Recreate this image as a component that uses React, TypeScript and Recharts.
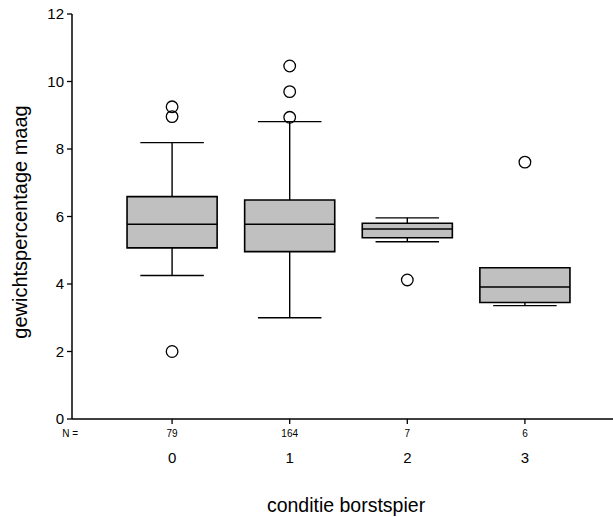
import { ScatterChart, Scatter, XAxis, YAxis, ReferenceArea } from 'recharts'

const categories = ['0', '1', '2', '3']
const counts = [79, 164, 7, 6]
const q1 = [5.07, 4.96, 5.37, 3.45]
const median = [5.77, 5.77, 5.63, 3.91]
const q3 = [6.59, 6.49, 5.8, 4.48]
const whiskerLow = [4.25, 3.0, 5.25, 3.36]
const whiskerHigh = [8.19, 8.81, 5.96, 4.48]
const outliers = [
  [9.25, 8.96, 2.0],
  [10.46, 9.7, 8.94],
  [4.12],
  [7.61],
]
const yTicks = [0, 2, 4, 6, 8, 10, 12]

const FONT = '"Liberation Sans", Arial, sans-serif'
const BOX_HALF = 0.383
const CAP_HALF = 0.27
const X_MIN = -0.851
const X_MAX = 3.749
// half thickness of drawn strokes, in data units (~1.4px)
const HX = 0.006
const HY = 0.021

const outlierPoints = outliers.flatMap((vals, i) => vals.map((y) => ({ x: i, y })))

// whiskers, caps and medians as thin filled areas
type Strip = { key: string; x1: number; x2: number; y1: number; y2: number }
const strips: Strip[] = []
categories.forEach((c, i) => {
  if (whiskerHigh[i] > q3[i]) {
    strips.push({ key: 'wh' + c, x1: i - HX, x2: i + HX, y1: q3[i], y2: whiskerHigh[i] })
    strips.push({ key: 'ch' + c, x1: i - CAP_HALF, x2: i + CAP_HALF, y1: whiskerHigh[i] - HY, y2: whiskerHigh[i] + HY })
  }
  if (whiskerLow[i] < q1[i]) {
    strips.push({ key: 'wl' + c, x1: i - HX, x2: i + HX, y1: whiskerLow[i], y2: q1[i] })
    strips.push({ key: 'cl' + c, x1: i - CAP_HALF, x2: i + CAP_HALF, y1: whiskerLow[i] - HY, y2: whiskerLow[i] + HY })
  }
  strips.push({ key: 'med' + c, x1: i - BOX_HALF, x2: i + BOX_HALF, y1: median[i] - HY, y2: median[i] + HY })
})

function XTick(props: any) {
  const { x, y, payload } = props
  const i = payload.value as number
  return (
    <g fontFamily={FONT} fill="#000">
      {i === 0 && (
        <text x={x - 102} y={y + 7} fontSize={10} textAnchor="middle" dominantBaseline="central">N =</text>
      )}
      <text x={x} y={y + 7} fontSize={10} textAnchor="middle" dominantBaseline="central">{counts[i]}</text>
      <text x={x} y={y + 31} fontSize={15} textAnchor="middle" dominantBaseline="central">{categories[i]}</text>
    </g>
  )
}

const Outlier = (props: any) => (
  <circle cx={props.cx} cy={props.cy} r={5.8} fill="none" stroke="#000" strokeWidth={1.3} />
)

export default function App() {
  return (
    <div style={{ position: 'absolute', left: 0, top: 0, width: 613, height: 517, overflow: 'hidden', background: '#fff' }}>
      <ScatterChart width={613} height={517} margin={{ top: 14, right: 0, bottom: 38, left: 12 }}>
        <XAxis
          type="number"
          dataKey="x"
          domain={[X_MIN, X_MAX]}
          allowDataOverflow
          ticks={[0, 1, 2, 3]}
          tick={<XTick />}
          tickSize={5}
          height={60}
          axisLine={{ stroke: '#000', strokeWidth: 1.5 }}
          tickLine={{ stroke: '#000', strokeWidth: 1.3 }}
        />
        <XAxis
          xAxisId="top"
          orientation="top"
          type="number"
          dataKey="x"
          domain={[X_MIN, X_MAX]}
          allowDataOverflow
          height={0}
          tick={false}
          tickLine={false}
          axisLine={{ stroke: '#000', strokeWidth: 1.5 }}
        />
        <YAxis
          type="number"
          dataKey="y"
          domain={[0, 12]}
          ticks={yTicks}
          width={60}
          tickSize={5}
          tickMargin={3}
          tick={{ fontSize: 15, fontFamily: FONT, fill: '#000' }}
          axisLine={{ stroke: '#000', strokeWidth: 1.5 }}
          tickLine={{ stroke: '#000', strokeWidth: 1.3 }}
        />
        {categories.map((c, i) => (
          <ReferenceArea
            key={'box' + c}
            x1={i - BOX_HALF}
            x2={i + BOX_HALF}
            y1={q1[i]}
            y2={q3[i]}
            fill="#c0c0c0"
            fillOpacity={1}
            stroke="#000"
            strokeWidth={1.6}
          />
        ))}
        {strips.map((s) => (
          <ReferenceArea key={s.key} x1={s.x1} x2={s.x2} y1={s.y1} y2={s.y2} fill="#000" fillOpacity={1} stroke="none" />
        ))}
        <Scatter data={outlierPoints} shape={<Outlier />} isAnimationActive={false} />
      </ScatterChart>
      {/* axis titles */}
      <div
        style={{
          position: 'absolute', left: 346, top: 506, transform: 'translate(-50%, -50%)',
          fontFamily: FONT, fontSize: 19.5, whiteSpace: 'nowrap', color: '#000', lineHeight: 1,
        }}
      >
        conditie borstspier
      </div>
      <div
        style={{
          position: 'absolute', left: 20, top: 222, transform: 'translate(-50%, -50%) rotate(-90deg)',
          fontFamily: FONT, fontSize: 20, whiteSpace: 'nowrap', color: '#000', lineHeight: 1,
        }}
      >
        gewichtspercentage maag
      </div>
    </div>
  )
}
